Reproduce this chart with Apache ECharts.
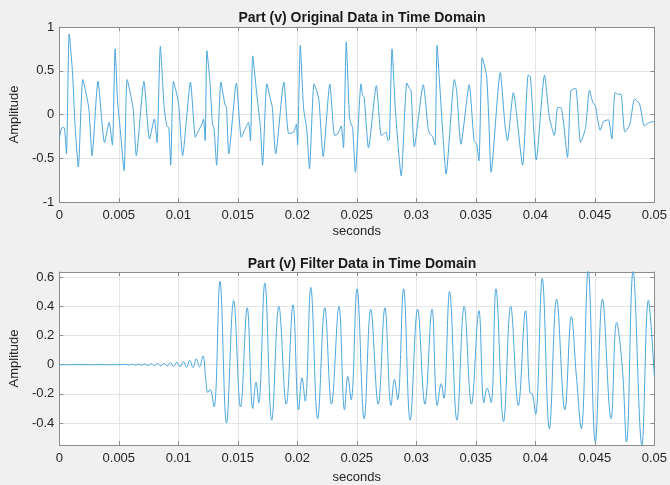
<!DOCTYPE html>
<html>
<head>
<meta charset="utf-8">
<title>Part (v)</title>
<script src="https://cdn.jsdelivr.net/npm/echarts@6/dist/echarts.min.js"></script>
<style>
  html, body { margin: 0; padding: 0; background: #f0f0f0; }
  #main { width: 670px; height: 485px; }
</style>
</head>
<body>
<div id="main"></div>
<script>
// original signal (seconds, amplitude)
var origTime = [0, 0.00022, 0.00041, 0.0006, 0.00083, 0.0011, 0.00132, 0.0016, 0.00198, 0.00248,
  0.00275, 0.00325, 0.0038, 0.00419, 0.00446, 0.00469, 0.0049, 0.0051, 0.00545, 0.0057,
  0.0062, 0.00647, 0.00711, 0.00758, 0.00799, 0.00821, 0.00849, 0.0088, 0.00903, 0.0092,
  0.00936, 0.00959, 0.00992, 0.01006, 0.01036, 0.01102, 0.01143, 0.01157, 0.01198, 0.01212,
  0.01226, 0.0124, 0.01267, 0.01287, 0.013, 0.01322, 0.01358, 0.01391, 0.01405, 0.01424,
  0.01488, 0.01529, 0.01556, 0.01589, 0.01606, 0.01625, 0.01658, 0.0169, 0.01708, 0.01744,
  0.01777, 0.0179, 0.01818, 0.01887, 0.01928, 0.0197, 0.01992, 0.02002, 0.02025, 0.02052,
  0.0208, 0.02102, 0.0214, 0.02163, 0.02182, 0.02217, 0.02273, 0.02314, 0.02341, 0.02369,
  0.02388, 0.02411, 0.02438, 0.02452, 0.02465, 0.02488, 0.02535, 0.02548, 0.02562, 0.02598,
  0.02664, 0.02705, 0.02727, 0.02746, 0.02763, 0.02774, 0.02796, 0.02824, 0.02873, 0.0292,
  0.02942, 0.02956, 0.02983, 0.03058, 0.03099, 0.03113, 0.03135, 0.03157, 0.03174, 0.03196,
  0.03223, 0.0325, 0.0332, 0.03339, 0.03375, 0.03444, 0.03485, 0.03507, 0.03526, 0.03554,
  0.0359, 0.0361, 0.03628, 0.03705, 0.03746, 0.03766, 0.03815, 0.03893, 0.0394, 0.03959,
  0.04008, 0.04077, 0.04118, 0.0416, 0.04188, 0.04215, 0.0427, 0.04298, 0.04339, 0.0438,
  0.04421, 0.04455, 0.04482, 0.04504, 0.04545, 0.04573, 0.04614, 0.04642, 0.0467, 0.04697,
  0.04719, 0.04752, 0.04793, 0.04835, 0.04876, 0.04917, 0.04959, 0.05];
var origAmp = [-0.28, -0.15, -0.15, -0.45, 0.92, 0.5, -0.11, -0.6, 0.4, 0.07,
  -0.47, 0.38, -0.32, -0.09, -0.35, 0.75, 0.14, -0.14, -0.64, 0.4,
  0.07, -0.47, 0.38, -0.28, -0.05, -0.32, 0.78, 0.1, -0.13, -0.15,
  -0.58, 0.38, 0.2, 0.08, -0.47, 0.37, -0.26, -0.22, -0.11, -0.05,
  -0.3, 0.73, 0.35, -0.11, -0.15, -0.58, 0.37, 0.12, 0.08, -0.45,
  0.36, -0.26, -0.18, -0.09, -0.3, 0.67, 0.25, -0.15, -0.58, 0.35,
  0.16, 0.08, -0.45, 0.37, -0.22, -0.2, -0.11, -0.35, 0.79, 0.08,
  -0.18, -0.62, 0.35, 0.27, 0.16, -0.48, 0.35, -0.24, -0.22, -0.13,
  -0.38, 0.83, -0.03, -0.11, -0.15, -0.66, 0.35, 0.22, 0.2, -0.38,
  0.33, -0.24, -0.22, -0.2, -0.3, -0.28, 0.75, 0.05, -0.7, 0.36,
  0.3, 0.27, -0.37, 0.34, -0.16, -0.22, -0.25, -0.35, 0.79, 0.35,
  -0.22, -0.68, 0.4, 0.27, -0.34, 0.34, -0.3, -0.34, -0.53, 0.65,
  0.45, -0.1, -0.66, 0.48, -0.14, -0.3, 0.25, -0.58, 0.45, 0.43,
  -0.52, 0.45, -0.03, -0.24, 0.08, 0.08, -0.49, 0.27, 0.3, -0.32,
  -0.16, 0.28, 0.14, 0.1, -0.18, -0.08, -0.06, -0.28, 0.25, 0.23,
  0.235, -0.2, -0.12, 0.18, 0.12, -0.13, -0.09, -0.08];

// filtered signal
var filtTime = [0, 0.005, 0.00556, 0.00583, 0.0061, 0.00637, 0.00664, 0.00691, 0.00718, 0.00745,
  0.00772, 0.00799, 0.00826, 0.00853, 0.0088, 0.00907, 0.00934, 0.00961, 0.00988, 0.01015,
  0.01042, 0.01069, 0.01096, 0.01123, 0.01151, 0.01178, 0.01207, 0.01231, 0.01248, 0.01267,
  0.013, 0.0135, 0.01405, 0.01465, 0.01523, 0.01579, 0.01626, 0.01653, 0.01675, 0.01727,
  0.01785, 0.01845, 0.01907, 0.01964, 0.02011, 0.02039, 0.02066, 0.02113, 0.02171, 0.02231,
  0.02287, 0.0235, 0.02397, 0.02424, 0.02452, 0.02502, 0.02562, 0.02617, 0.0268, 0.02736,
  0.02788, 0.02816, 0.02843, 0.02893, 0.02948, 0.03011, 0.03072, 0.03132, 0.03176, 0.03209,
  0.03231, 0.03279, 0.03341, 0.03402, 0.03463, 0.03526, 0.03568, 0.03595, 0.03628, 0.03669,
  0.03733, 0.03793, 0.03857, 0.03917, 0.03953, 0.03975, 0.04002, 0.04058, 0.04118, 0.04179,
  0.04248, 0.04303, 0.04345, 0.04386, 0.04444, 0.04504, 0.04564, 0.04636, 0.04683, 0.0473,
  0.04766, 0.04821, 0.04895, 0.0495, 0.05];
var filtAmp = [0, 0, 0.002, -0.002, 0.003, -0.003, 0.004, -0.004, 0.005, -0.005,
  0.007, -0.006, 0.009, -0.008, 0.011, -0.01, 0.014, -0.012, 0.018, -0.015,
  0.023, -0.018, 0.03, -0.02, 0.04, -0.015, 0.06, -0.1, -0.19, -0.17,
  -0.29, 0.57, -0.4, 0.44, -0.29, 0.39, -0.3, -0.12, -0.26, 0.56,
  -0.38, 0.4, -0.27, 0.41, -0.31, -0.09, -0.25, 0.53, -0.37, 0.39,
  -0.27, 0.4, -0.31, -0.08, -0.24, 0.52, -0.37, 0.38, -0.27, 0.39,
  -0.28, -0.1, -0.24, 0.52, -0.38, 0.38, -0.27, 0.38, -0.28, -0.13,
  -0.23, 0.5, -0.38, 0.4, -0.27, 0.37, -0.26, -0.16, -0.26, 0.52,
  -0.39, 0.4, -0.28, 0.37, -0.19, -0.2, -0.34, 0.59, -0.44, 0.45,
  -0.31, 0.33, -0.08, -0.44, 0.65, -0.53, 0.45, -0.37, 0.29, -0.01,
  -0.53, 0.64, -0.55, 0.44, -0.08];

// tick labels
var origTicks = [-1, -0.5, 0, 0.5, 1];
var filtTicks = [-0.4, -0.2, 0, 0.2, 0.4, 0.6];

function pairs(xs, ys) {
  var out = [];
  for (var i = 0; i < xs.length; i++) out.push([xs[i], ys[i]]);
  return out;
}

var fontFam = 'Liberation Sans, Arial, sans-serif';
var textColor = '#262626';
var boxColor = '#8c8c8c';
var gridColor = '#e4e4e4';
var lineColor = '#4aa6dc';

// main x axis (bottom side of a box)
function xMain(gridIndex, gap) {
  return {
    type: 'value', gridIndex: gridIndex, min: 0, max: 0.05, interval: 0.005,
    name: 'seconds', nameLocation: 'middle', nameGap: gap,
    nameTextStyle: { color: textColor, fontSize: 13, fontFamily: fontFam },
    axisLine: { onZero: false, lineStyle: { color: boxColor } },
    axisTick: { inside: true, length: 4, lineStyle: { color: boxColor } },
    axisLabel: { color: textColor, fontSize: 13, fontFamily: fontFam, margin: 7 },
    splitLine: { show: true, lineStyle: { color: gridColor } }
  };
}
// top side of a box, ticks only
function xTop(gridIndex) {
  return {
    type: 'value', gridIndex: gridIndex, position: 'top', min: 0, max: 0.05, interval: 0.005,
    axisLine: { onZero: false, lineStyle: { color: boxColor } },
    axisTick: { inside: true, length: 4, lineStyle: { color: boxColor } },
    axisLabel: { show: false }, splitLine: { show: false }
  };
}
function yMain(gridIndex, min, max, ticks) {
  return {
    type: 'value', gridIndex: gridIndex, min: min, max: max,
    name: 'Amplitude', nameLocation: 'middle', nameGap: 31, nameRotate: 90,
    nameTextStyle: { color: textColor, fontSize: 13, fontFamily: fontFam },
    axisLine: { show: true, onZero: false, lineStyle: { color: boxColor } },
    axisTick: { show: true, inside: true, length: 4, customValues: ticks, lineStyle: { color: boxColor } },
    axisLabel: { color: textColor, fontSize: 13, fontFamily: fontFam, margin: 5, customValues: ticks },
    splitLine: { show: true, lineStyle: { color: gridColor } }
  };
}
function yRight(gridIndex, min, max, ticks) {
  return {
    type: 'value', gridIndex: gridIndex, position: 'right', min: min, max: max,
    axisLine: { show: true, onZero: false, lineStyle: { color: boxColor } },
    axisTick: { show: true, inside: true, length: 4, customValues: ticks, lineStyle: { color: boxColor } },
    axisLabel: { show: false, customValues: ticks }, splitLine: { show: false }
  };
}

var chart = echarts.init(document.getElementById('main'), null, { renderer: 'canvas' });
chart.setOption({
  backgroundColor: '#f0f0f0',
  animation: false,
  title: [
    { text: 'Part (v) Original Data in Time Domain', left: 357, top: 6, textAlign: 'center',
      textStyle: { fontSize: 14, fontWeight: 'bold', color: '#1a1a1a', fontFamily: fontFam } },
    { text: 'Part (v) Filter Data in Time Domain', left: 357, top: 252, textAlign: 'center',
      textStyle: { fontSize: 14, fontWeight: 'bold', color: '#1a1a1a', fontFamily: fontFam } }
  ],
  grid: [
    { left: 55, top: 27, width: 605, height: 175, show: true, backgroundColor: '#fff', borderWidth: 0 },
    { left: 55, top: 272, width: 605, height: 175, show: true, backgroundColor: '#fff', borderWidth: 0 }
  ],
  xAxis: [xMain(0, 23), xTop(0), xMain(1, 26), xTop(1)],
  yAxis: [
    yMain(0, -1, 1, origTicks), yRight(0, -1, 1, origTicks),
    yMain(1, -0.55, 0.635, filtTicks), yRight(1, -0.55, 0.635, filtTicks)
  ],
  series: [
    { type: 'line', xAxisIndex: 0, yAxisIndex: 0, data: pairs(origTime, origAmp),
      showSymbol: false, smooth: 0.2, lineStyle: { color: lineColor, width: 1 } },
    { type: 'line', xAxisIndex: 2, yAxisIndex: 2, data: pairs(filtTime, filtAmp),
      showSymbol: false, smooth: 0.4, lineStyle: { color: lineColor, width: 1 } }
  ]
});
</script>
</body>
</html>
